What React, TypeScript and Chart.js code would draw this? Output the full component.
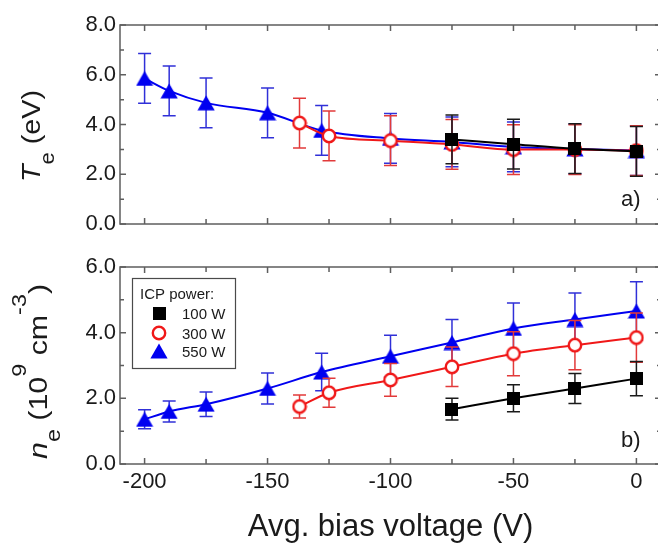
import React, { useEffect, useRef } from "react";
import { Chart, registerables } from "chart.js";

Chart.register(...registerables);

// ---------- data ----------
const seriesLabels = ["100 W", "300 W", "550 W"];
const legendTitle = "ICP power:";
const xTitle = "Avg. bias voltage (V)";
const panelLabels = ["a)", "b)"];

const xTickValues = [-200, -150, -100, -50, 0];
const xMinorValues = [-175, -125, -75, -25];
const teTickValues = [0, 2, 4, 6, 8];
const teMinorValues = [1, 3, 5, 7];
const neTickValues = [0, 2, 4, 6];
const neMinorValues = [1, 3, 5];

const bias100 = [-75, -50, -25, 0];
const bias300 = [-137, -125, -100, -75, -50, -25, 0];
const bias550 = [-200, -190, -175, -150, -128, -100, -75, -50, -25, 0];

// electron temperature (eV)
const te100 = [3.4, 3.21, 3.03, 2.92];
const teErr100 = [0.98, 1.0, 1.0, 1.0];
const te300 = [4.06, 3.54, 3.35, 3.2, 2.99, 2.99, 2.95];
const teErr300 = [1.0, 1.0, 1.0, 1.0, 1.0, 1.0, 1.0];
const te550 = [5.85, 5.35, 4.87, 4.47, 3.76, 3.44, 3.3, 3.1, 3.02, 2.95];
const teErr550 = [1.0, 1.0, 1.0, 1.0, 1.0, 1.0, 1.0, 1.0, 1.0, 1.0];

// electron density (1e9 cm^-3)
const ne100 = [1.67, 2.0, 2.3, 2.6];
const neErr100 = [0.33, 0.41, 0.46, 0.52];
const ne300 = [1.75, 2.17, 2.56, 2.96, 3.36, 3.62, 3.85];
const neErr300 = [0.35, 0.44, 0.5, 0.6, 0.67, 0.75, 0.75];
const ne550 = [1.36, 1.6, 1.82, 2.3, 2.8, 3.28, 3.7, 4.13, 4.4, 4.66];
const neErr550 = [0.29, 0.32, 0.37, 0.47, 0.57, 0.64, 0.7, 0.77, 0.81, 0.89];

// ---------- style ----------
const FONT = "'Liberation Sans', Arial, Helvetica, sans-serif";
const BLACK = "#000000";
const RED = "#f01818";
const BLUE = "#0000f0";
const ERR_COLORS = ["#1a1a1a", "#e23a3a", "#3030d8"];
const FRAME = "#5e5e5e";
const TEXT = "#1a1a1a";

function makeMarker(kind: string, color: string): HTMLCanvasElement {
  const c = document.createElement("canvas");
  const ctx = c.getContext("2d")!;
  if (kind === "square") {
    c.width = 13;
    c.height = 13;
    ctx.fillStyle = color;
    ctx.fillRect(0, 0, 13, 13);
  } else if (kind === "circle") {
    c.width = 16;
    c.height = 16;
    ctx.fillStyle = "#ffffff";
    ctx.strokeStyle = color;
    ctx.lineWidth = 2.4;
    ctx.beginPath();
    ctx.arc(8, 8, 6.2, 0, Math.PI * 2);
    ctx.fill();
    ctx.stroke();
  } else {
    c.width = 18;
    c.height = 16;
    ctx.fillStyle = color;
    ctx.beginPath();
    ctx.moveTo(9, 0.5);
    ctx.lineTo(17.6, 15.5);
    ctx.lineTo(0.4, 15.5);
    ctx.closePath();
    ctx.fill();
  }
  return c;
}

const errorBarPlugin = {
  id: "errorBars",
  beforeDatasetDraw(chart: any, args: any) {
    const ds = chart.data.datasets[args.index];
    const errs: number[] = ds.errors || [];
    const ys = chart.scales.y;
    const ctx = chart.ctx;
    ctx.save();
    ctx.strokeStyle = ds.errColor;
    ctx.lineWidth = 1.5;
    args.meta.data.forEach((pt: any, i: number) => {
      const v = ds.data[i].y;
      const e = errs[i];
      const x = pt.x;
      const y1 = ys.getPixelForValue(v + e);
      const y2 = ys.getPixelForValue(v - e);
      ctx.beginPath();
      ctx.moveTo(x, y1);
      ctx.lineTo(x, y2);
      ctx.moveTo(x - 6.5, y1);
      ctx.lineTo(x + 6.5, y1);
      ctx.moveTo(x - 6.5, y2);
      ctx.lineTo(x + 6.5, y2);
      ctx.stroke();
    });
    ctx.restore();
  },
};

function framePlugin(majorY: number[], minorY: number[]) {
  return {
    id: "frame",
    afterDraw(chart: any) {
      const { left, right, top, bottom } = chart.chartArea;
      const ctx = chart.ctx;
      const xs = chart.scales.x;
      const ys = chart.scales.y;
      ctx.save();
      ctx.strokeStyle = FRAME;
      ctx.lineWidth = 1.5;
      ctx.strokeRect(left, top, right - left, bottom - top);
      ctx.beginPath();
      const xt = (vals: number[], len: number) =>
        vals.forEach((v) => {
          const p = xs.getPixelForValue(v);
          ctx.moveTo(p, bottom);
          ctx.lineTo(p, bottom - len);
          ctx.moveTo(p, top);
          ctx.lineTo(p, top + len);
        });
      const yt = (vals: number[], len: number) =>
        vals.forEach((v) => {
          const p = ys.getPixelForValue(v);
          ctx.moveTo(left, p);
          ctx.lineTo(left + len, p);
          ctx.moveTo(right, p);
          ctx.lineTo(right - len, p);
        });
      xt(xTickValues, 6);
      xt(xMinorValues, 5);
      yt(majorY, 6);
      yt(minorY, 4);
      ctx.stroke();
      ctx.restore();
    },
  };
}

type Part = { text: string; size: number; italic?: boolean; dy?: number };

function richTitlePlugin(parts: Part[], xBase: number, yStart: number, span: number, label: string, labelY: number) {
  return {
    id: "richTitle",
    afterDraw(chart: any) {
      const ctx = chart.ctx;
      ctx.save();
      ctx.fillStyle = TEXT;
      ctx.textBaseline = "alphabetic";
      ctx.textAlign = "left";
      let total = 0;
      parts.forEach((p) => {
        ctx.font = `${p.italic ? "italic " : ""}${p.size}px ${FONT}`;
        total += ctx.measureText(p.text).width;
      });
      const sc = span / total;
      ctx.translate(xBase, yStart);
      ctx.rotate(-Math.PI / 2);
      ctx.scale(sc, 1);
      let pos = 0;
      parts.forEach((p) => {
        ctx.font = `${p.italic ? "italic " : ""}${p.size}px ${FONT}`;
        ctx.fillText(p.text, pos, p.dy || 0);
        pos += ctx.measureText(p.text).width;
      });
      ctx.restore();
      ctx.save();
      ctx.fillStyle = TEXT;
      ctx.font = `22px ${FONT}`;
      ctx.textAlign = "left";
      ctx.textBaseline = "alphabetic";
      ctx.fillText(label, 621, labelY);
      ctx.restore();
    },
  };
}

function legendPlugin(markers: HTMLCanvasElement[]) {
  return {
    id: "boxLegend",
    afterDraw(chart: any) {
      const ctx = chart.ctx;
      ctx.save();
      ctx.fillStyle = "#ffffff";
      ctx.fillRect(132, 278, 103, 90);
      ctx.strokeStyle = "#4a4a4a";
      ctx.lineWidth = 1.2;
      ctx.strokeRect(132.5, 278.5, 103, 90);
      ctx.fillStyle = TEXT;
      ctx.font = `15px ${FONT}`;
      ctx.textBaseline = "alphabetic";
      ctx.textAlign = "left";
      ctx.fillText(legendTitle, 140, 299);
      const rows = [313, 333, 351];
      seriesLabels.forEach((lab, i) => {
        const m = markers[i];
        ctx.drawImage(m, 159 - m.width / 2, rows[i] - m.height / 2);
        ctx.fillText(lab, 182, rows[i] + 5.5);
      });
      ctx.restore();
    },
  };
}

function makeDatasets(vals: number[][], errs: number[][], markers: HTMLCanvasElement[]) {
  const xs = [bias100, bias300, bias550];
  const colors = [BLACK, RED, BLUE];
  return vals.map((v, k) => ({
    label: seriesLabels[k],
    data: xs[k].map((x, i) => ({ x, y: v[i] })),
    errors: errs[k],
    errColor: ERR_COLORS[k],
    borderColor: colors[k],
    backgroundColor: colors[k],
    borderWidth: 2,
    pointStyle: markers[k],
    pointRadius: 8,
    cubicInterpolationMode: "monotone",
    clip: false,
  }));
}

function yAxis(min: number, max: number, ticks: number[]) {
  return {
    type: "linear",
    min,
    max,
    afterFit: (s: any) => {
      s.width = 120;
    },
    afterBuildTicks: (s: any) => {
      s.ticks = ticks.map((v) => ({ value: v }));
    },
    ticks: {
      font: { size: 22, family: FONT },
      color: TEXT,
      padding: 4,
      callback: (v: any) => Number(v).toFixed(1),
    },
    grid: { display: false, drawTicks: false },
    border: { display: false },
  };
}

export default function App() {
  const topRef = useRef<HTMLCanvasElement>(null);
  const botRef = useRef<HTMLCanvasElement>(null);

  useEffect(() => {
    const markers = [makeMarker("square", BLACK), makeMarker("circle", RED), makeMarker("triangle", BLUE)];

    const topChart = new Chart(topRef.current!, {
      type: "line",
      data: { datasets: makeDatasets([te100, te300, te550], [teErr100, teErr300, teErr550], markers) as any },
      options: {
        responsive: false,
        animation: false,
        layout: { autoPadding: false, padding: { left: 0, right: 3, top: 25, bottom: 319 } },
        plugins: { legend: { display: false }, tooltip: { enabled: false } },
        scales: {
          x: {
            type: "linear",
            min: -210,
            max: 10,
            ticks: { display: false },
            grid: { display: false, drawTicks: false },
            border: { display: false },
            afterFit: (s: any) => {
              s.height = 0;
            },
          },
          y: yAxis(0, 8, teTickValues),
        },
      } as any,
      plugins: [
        errorBarPlugin,
        framePlugin(teTickValues, teMinorValues),
        richTitlePlugin(
          [
            { text: "T", size: 26, italic: true },
            { text: "e", size: 20, dy: 13.5 },
            { text: " (eV)", size: 26 },
          ],
          40,
          182,
          92,
          panelLabels[0],
          206
        ),
      ] as any,
    });

    const botChart = new Chart(botRef.current!, {
      type: "line",
      data: { datasets: makeDatasets([ne100, ne300, ne550], [neErr100, neErr300, neErr550], markers) as any },
      options: {
        responsive: false,
        animation: false,
        layout: { autoPadding: false, padding: { left: 0, right: 3, top: 267, bottom: 0 } },
        plugins: { legend: { display: false }, tooltip: { enabled: false } },
        scales: {
          x: {
            type: "linear",
            min: -210,
            max: 10,
            afterBuildTicks: (s: any) => {
              s.ticks = xTickValues.map((v) => ({ value: v }));
            },
            ticks: {
              font: { size: 22, family: FONT },
              color: TEXT,
              padding: 5,
              maxRotation: 0,
              callback: (v: any) => String(v),
            },
            title: {
              display: true,
              text: xTitle,
              font: { size: 31, family: FONT },
              color: TEXT,
              padding: { top: 0, bottom: -3 },
            },
            grid: { display: false, drawTicks: false },
            border: { display: false },
            afterFit: (s: any) => {
              s.height = 79;
            },
          },
          y: yAxis(0, 6, neTickValues),
        },
      } as any,
      plugins: [
        errorBarPlugin,
        framePlugin(neTickValues, neMinorValues),
        richTitlePlugin(
          [
            { text: "n", size: 26, italic: true },
            { text: "e", size: 20, dy: 13 },
            { text: " (10", size: 26 },
            { text: "9", size: 20, dy: -21 },
            { text: " cm", size: 26 },
            { text: "-3", size: 20, dy: -21 },
            { text: ")", size: 26 },
          ],
          47,
          459,
          175,
          panelLabels[1],
          447
        ),
        legendPlugin(markers),
      ] as any,
    });

    return () => {
      topChart.destroy();
      botChart.destroy();
    };
  }, []);

  const cs: React.CSSProperties = { position: "absolute", left: 0, top: 0, width: 664, height: 543 };
  return (
    <div style={{ position: "fixed", left: 0, top: 0, width: 658, height: 543, overflow: "hidden", background: "#ffffff" }}>
      <canvas ref={topRef} width={664} height={543} style={cs} />
      <canvas ref={botRef} width={664} height={543} style={cs} />
    </div>
  );
}
